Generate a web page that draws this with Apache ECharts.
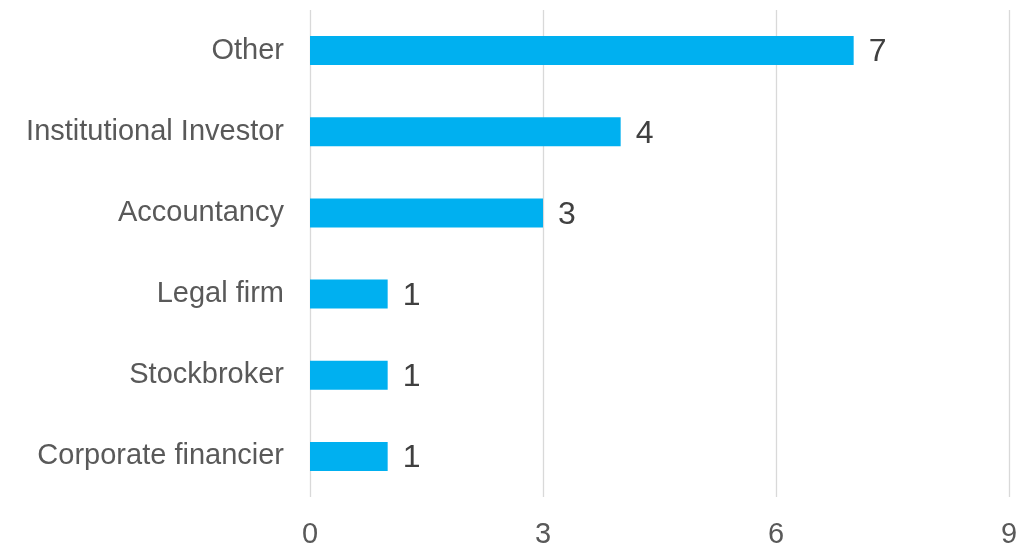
<!DOCTYPE html>
<html>
<head>
<meta charset="utf-8">
<script src="https://cdn.jsdelivr.net/npm/echarts@6/dist/echarts.min.js"></script>
<style>
  html, body { margin: 0; padding: 0; background: #ffffff; }
  #chart { width: 1026px; height: 549px; }
</style>
</head>
<body>
<div id="chart"></div>
<script>
// Respondent categories, listed top to bottom
const categories = ['Other', 'Institutional Investor', 'Accountancy', 'Legal firm', 'Stockbroker', 'Corporate financier'];
// Count per category
const counts = [7, 4, 3, 1, 1, 1];
// Value axis range and step
const axisMin = 0;
const axisMax = 9;
const axisStep = 3;

const chart = echarts.init(document.getElementById('chart'));
chart.setOption({
  animation: false,
  grid: { left: 310, right: 17, top: 10, bottom: 52, containLabel: false },
  xAxis: {
    type: 'value',
    min: axisMin,
    max: axisMax,
    interval: axisStep,
    axisLine: { show: false },
    axisTick: { show: false },
    splitLine: { show: true, lineStyle: { color: '#d9d9d9', width: 1.3 } },
    axisLabel: {
      color: '#595959',
      fontFamily: 'Liberation Sans, Arial, sans-serif',
      fontSize: 29,
      margin: 23
    }
  },
  yAxis: {
    type: 'category',
    data: categories,
    inverse: true,
    axisLine: { show: false },
    axisTick: { show: false },
    splitLine: { show: false },
    axisLabel: {
      color: '#595959',
      fontFamily: 'Liberation Sans, Arial, sans-serif',
      fontSize: 29,
      margin: 26,
      padding: [4, 0, 0, 0]
    }
  },
  series: [{
    type: 'bar',
    data: counts,
    barWidth: 29,
    itemStyle: { color: '#00B0F0' },
    label: {
      show: true,
      position: 'right',
      distance: 15,
      offset: [0, 2],
      color: '#404040',
      fontFamily: 'Liberation Sans, Arial, sans-serif',
      fontSize: 32
    }
  }]
});
</script>
</body>
</html>
